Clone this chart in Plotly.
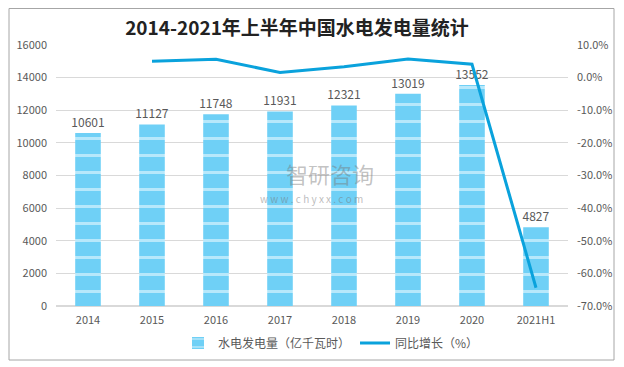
import plotly.graph_objects as go

categories = ["2014", "2015", "2016", "2017", "2018", "2019", "2020", "2021H1"]
generation = [10601, 11127, 11748, 11931, 12321, 13019, 13552, 4827]
growth_x = ["2015", "2016", "2017", "2018", "2019", "2020", "2021H1"]
growth = [5.0, 5.6, 1.6, 3.3, 5.7, 4.1, -64.4]
left_ticks = [0, 2000, 4000, 6000, 8000, 10000, 12000, 14000, 16000]
right_ticks = [10, 0, -10, -20, -30, -40, -50, -60, -70]

font_fam = "Noto Sans CJK SC, Noto Sans, sans-serif"
gray = "#595959"
W, H = 624, 367
OFF = 8  # page offset of the figure inside the browser window


def px(xs):
    return (xs - OFF)


fig = go.Figure()
fig.add_trace(go.Bar(
    x=categories, y=generation, name="水电发电量（亿千瓦时）",
    width=0.4,
    marker=dict(color="#6fd0f6", line=dict(width=0),
                pattern=dict(shape="-", fgcolor="white", bgcolor="#6fd0f6",
                             size=17, solidity=0.18, fillmode="overlay")),
    text=[str(v) for v in generation], textposition="outside", constraintext="none",
    textfont=dict(size=12, color=gray), cliponaxis=False,
))
fig.add_trace(go.Scatter(
    x=growth_x, y=growth, name="同比增长（%）", yaxis="y2", mode="lines",
    line=dict(color="#0aa2dc", width=3),
))

fig.add_annotation(text="智研咨询", x=px(330) / W, y=1 - px(173) / H, xref="paper", yref="paper",
                   showarrow=False, font=dict(size=22, color="rgba(120,120,120,0.45)", family=font_fam))
fig.add_annotation(text="w w w . c h y x x . c o m", x=px(311) / W, y=1 - px(198) / H,
                   xref="paper", yref="paper",
                   showarrow=False, font=dict(size=10, color="rgba(120,120,120,0.5)", family=font_fam))

fig.update_layout(
    width=W, height=H,
    margin=dict(l=0, r=0, t=0, b=0, autoexpand=False),
    paper_bgcolor="white", plot_bgcolor="white",
    font=dict(family=font_fam, size=11, color=gray),
    title=dict(text="<b>2014-2021年上半年中国水电发电量统计</b>", x=px(297) / W, xanchor="center",
               y=1 - px(28) / H, yanchor="middle", font=dict(size=19, color="#222222", family=font_fam)),
    xaxis=dict(domain=[px(56) / W, px(568) / W], showgrid=False, tickfont=dict(size=11, color=gray),
               showline=False, ticks="", range=[-0.5, 7.5], ticklabelstandoff=6, automargin=False),
    yaxis=dict(domain=[1 - px(306) / H, 1 - px(45) / H], range=[0, 16000], tickvals=left_ticks,
               ticktext=[str(v) for v in left_ticks], gridcolor="#d9d9d9", gridwidth=1,
               zeroline=True, zerolinecolor="#d9d9d9", tickfont=dict(size=11, color=gray),
               ticklabelstandoff=8, automargin=False),
    yaxis2=dict(range=[-70, 10], tickvals=right_ticks,
                ticktext=[f"{v:.1f}%" for v in right_ticks], overlaying="y", side="right",
                showgrid=False, zeroline=False, tickfont=dict(size=11, color=gray),
                ticklabelstandoff=8, automargin=False),
    legend=dict(orientation="h", x=px(178) / W, xanchor="left", y=1 - px(343) / H, yanchor="middle",
                font=dict(size=12, color=gray), bgcolor="rgba(0,0,0,0)"),
    shapes=[dict(type="rect", xref="paper", yref="paper", x0=px(9) / W, x1=px(614) / W,
                 y0=1 - px(360) / H, y1=1 - 0.5 / H, line=dict(color="#a6a6a6", width=1))],
)

fig.write_html("out.html")
